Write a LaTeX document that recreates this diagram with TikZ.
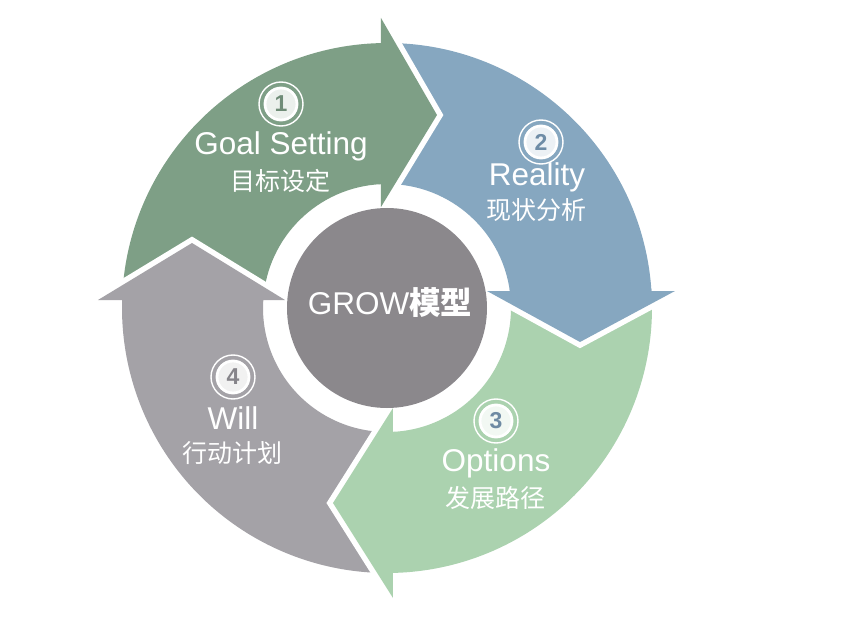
\documentclass[tikz,border=0pt]{standalone}
\usepackage{fontspec}
\setmainfont{Liberation Sans}
\newfontfamily\cjk{Noto Sans CJK SC}
\definecolor{cA}{HTML}{7E9F86}
\definecolor{cB}{HTML}{86A7C0}
\definecolor{cC}{HTML}{ABD2AF}
\definecolor{cD}{HTML}{A4A2A7}
\definecolor{cCenter}{HTML}{8B888C}
\definecolor{dA}{HTML}{6F8C77}
\definecolor{dB}{HTML}{6E8CA6}
\definecolor{dC}{HTML}{6E8AA3}
\definecolor{dD}{HTML}{86848A}
\begin{document}
\begin{tikzpicture}[x=1pt,y=1pt,
  en/.style={font=\fontsize{31.5}{31.5}\selectfont, text=white, inner sep=0pt},
  zh/.style={font=\cjk\fontsize{25}{25}\selectfont, text=white, inner sep=0pt},
  gapline/.style={draw=white, line width=11pt, line join=miter, line cap=butt},
  numc/.style={circle, draw=white, line width=2.8pt, fill=white, fill opacity=0.85, text opacity=1,
    minimum size=32pt, inner sep=0pt, font=\bfseries\fontsize{23}{23}\selectfont},
  ring/.style={draw=white, line width=1.4pt}]
\useasboundingbox (-387,-308) rectangle (467,308);
% bodies
\fill[cA] (178.27:265) arc[start angle=178.27, end angle=91.30, radius=265] -- (92.77:124) arc[start angle=92.77, end angle=176.30, radius=124] -- cycle;
\fill[cB] (91.30:265) arc[start angle=91.30, end angle=3.68, radius=265] -- (7.88:124) arc[start angle=7.88, end angle=92.77, radius=124] -- cycle;
\fill[cC] (3.68:265) arc[start angle=3.68, end angle=-88.70, radius=265] -- (-87.23:124) arc[start angle=-87.23, end angle=7.88, radius=124] -- cycle;
\fill[cD] (271.30:265) arc[start angle=271.30, end angle=178.27, radius=265] -- (176.30:124) arc[start angle=176.30, end angle=272.77, radius=124] -- cycle;
% heads
\draw[gapline] (-6,290) -- (50,193) -- (-6,101);
\fill[cA] (-6,290) -- (50,193) -- (-6,101) -- (-6,123.85) -- (-8,123.74) -- (-8,264.88) -- (-6,264.93) -- cycle;
\draw[gapline] (288,17) -- (193,-34) -- (100,17);
\fill[cB] (288,17) -- (193,-34) -- (100,17) -- (122.83,17) -- (122.7,19) -- (264.3,19) -- (264.45,17) -- cycle;
\draw[gapline] (6,-290) -- (-54,-195) -- (6,-100);
\fill[cC] (6,-290) -- (-54,-195) -- (6,-100) -- (6,-123.85) -- (8,-123.74) -- (8,-264.88) -- (6,-264.93) -- cycle;
\draw[gapline] (-289,8) -- (-195,65) -- (-102,8);
\fill[cD] (-289,8) -- (-195,65) -- (-102,8) -- (-123.74,8) -- (-123.85,6) -- (-264.93,6) -- (-264.88,8) -- cycle;
% centre
\fill[cCenter] (0,0) circle (100);
\node[en] (grow) at (3,5) {GROW{\cjk\bfseries 模型}};
% labels
\node[numc, text=dA] (n1) at (-106,204) {1};
\draw[ring] (n1.center) circle (22);
\node[en] (t1) at (-106,162) {Goal Setting};
\node[zh] (z1) at (-106,127) {目标设定};
\node[numc, text=dB] (n2) at (154,166) {2};
\draw[ring] (n2.center) circle (22);
\node[en] (t2) at (150,131) {Reality};
\node[zh] (z2) at (149,98) {现状分析};
\node[numc, text=dC] (n3) at (109,-113) {3};
\draw[ring] (n3.center) circle (22);
\node[en] (t3) at (109,-155) {Options};
\node[zh] (z3) at (109,-190) {发展路径};
\node[numc, text=dD] (n4) at (-154,-69) {4};
\draw[ring] (n4.center) circle (22);
\node[en] (t4) at (-154,-110) {Will};
\node[zh] (z4) at (-154,-145) {行动计划};
\end{tikzpicture}
\end{document}
